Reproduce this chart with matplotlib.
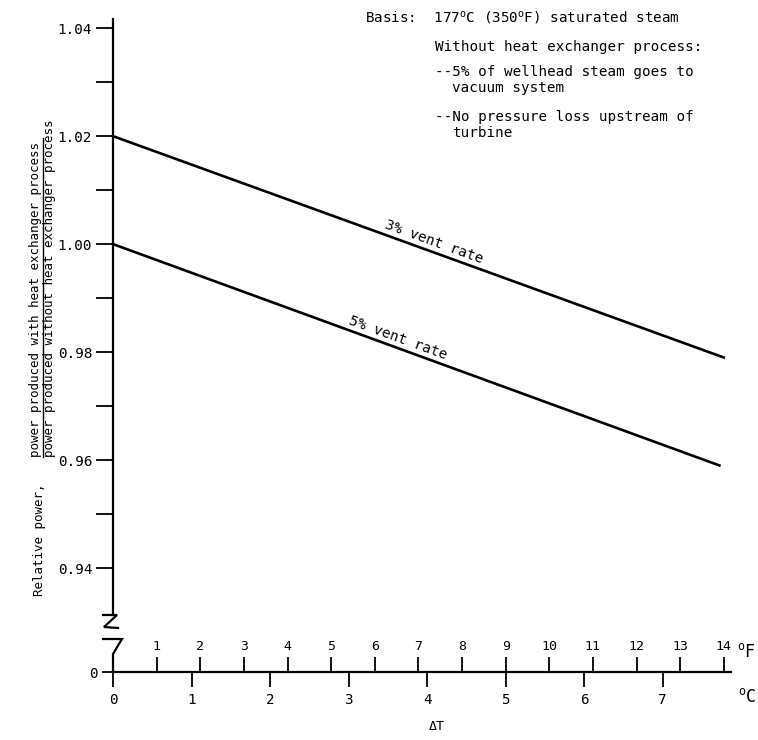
import numpy as np
import matplotlib
matplotlib.use("Agg")
import matplotlib.pyplot as plt
from matplotlib.lines import Line2D

# data (delta T in deg F, relative power)
dT_3pct_F = [0.0, 14.0]
power_3pct = [1.020, 0.979]
dT_5pct_F = [0.0, 13.9]
power_5pct = [1.000, 0.959]

y_major = [0.94, 0.96, 0.98, 1.00, 1.02, 1.04]
y_minor = [0.95, 0.97, 0.99, 1.01, 1.03]
c_ticks = [0, 1, 2, 3, 4, 5, 6, 7]
f_ticks = list(range(1, 15))

plt.rcParams['font.family'] = ['DejaVu Sans Mono']
plt.rcParams['mathtext.fontset'] = 'custom'
plt.rcParams['mathtext.rm'] = 'DejaVu Sans Mono'
plt.rcParams['mathtext.it'] = 'DejaVu Sans Mono'

W, H = 758, 740
fig = plt.figure(figsize=(W / 100, H / 100), dpi=100)

def fx(x):
    return x / W

def fy(y):
    return 1 - y / H

def f2c(f):
    return np.asarray(f) * 5.0 / 9.0

xmax_c = 7.87
lw_ax = 1.6
fs = 10.3

# main axes (upper part of broken y axis)
ax = fig.add_axes([fx(113), fy(615), fx(731) - fx(113), fy(19) - fy(615)])
ax.set_xlim(0, xmax_c)
ax.set_ylim(0.9313, 1.0417)
for s in ['top', 'right', 'bottom']:
    ax.spines[s].set_visible(False)
ax.spines['left'].set_linewidth(lw_ax)
ax.set_xticks([])
ax.set_yticks(y_major)
ax.set_yticklabels(['%.2f' % v for v in y_major], fontsize=fs)
ax.set_yticks(y_minor, minor=True)
ax.tick_params(axis='y', which='both', length=12, width=1.3, pad=3)
ax.patch.set_alpha(0)

ax.plot(f2c(dT_3pct_F), power_3pct, color='black', lw=1.9, clip_on=False)
ax.plot(f2c(dT_5pct_F), power_5pct, color='black', lw=1.9, clip_on=False)

# labels on the lines
for xs, ys, xc, lab in [(dT_3pct_F, power_3pct, 4.05, '3% vent rate'),
                        (dT_5pct_F, power_5pct, 3.59, '5% vent rate')]:
    yc = np.interp(xc, f2c(xs), ys)
    ax.annotate(lab, xy=(xc, yc), xytext=(0.7, 1.9), textcoords='offset points',
                rotation=-20, rotation_mode='anchor', ha='center', va='bottom',
                fontsize=fs)

# bottom axis at zero, deg C below, deg F above
axb = fig.add_axes([fx(113), fy(672), fx(731) - fx(113), 0.001])
axb.set_xlim(0, xmax_c)
axb.set_ylim(0, 1)
for s in ['top', 'right', 'left']:
    axb.spines[s].set_visible(False)
axb.spines['bottom'].set_linewidth(lw_ax)
axb.set_xticks(c_ticks)
axb.set_xticklabels([str(c) for c in c_ticks], fontsize=fs)
axb.tick_params(axis='x', length=11, width=1.3, pad=4)
axb.set_yticks([0])
axb.set_yticklabels(['0'], fontsize=fs)
axb.tick_params(axis='y', length=8, width=1.3, pad=3)
axb.patch.set_alpha(0)

axt = axb.twiny()
axt.set_xlim(0, xmax_c * 9.0 / 5.0)
for s in axt.spines.values():
    s.set_visible(False)
axt.set_xticks(f_ticks)
axt.set_xticklabels([str(f) for f in f_ticks], fontsize=9.5)
axt.tick_params(axis='x', length=10, width=1.3, pad=3)

# break marks on y axis
def pline(pts, lw=1.6):
    xs = [fx(p[0]) for p in pts]
    ys = [fy(p[1]) for p in pts]
    fig.add_artist(Line2D(xs, ys, color='black', lw=lw, transform=fig.transFigure,
                          solid_joinstyle='miter'))

pline([(103, 615), (117, 615), (104, 627), (118, 628)])
pline([(103, 639), (122, 639), (113, 654), (113, 672)])

# unit labels
fig.text(fx(746), fy(652), r'$^{\mathrm{o}}$F', fontsize=12, ha='center', va='center')
fig.text(fx(747), fy(697), r'$^{\mathrm{o}}$C', fontsize=12, ha='center', va='center')
fig.text(fx(437), fy(726), '\u0394T', fontsize=9.5, ha='center', va='center')

# basis notes
notes = [
    (365, 17, r'Basis:  177$^{\mathrm{o}}$C (350$^{\mathrm{o}}$F) saturated steam'),
    (435, 47, 'Without heat exchanger process:'),
    (435, 72, '--5% of wellhead steam goes to'),
    (452, 88, 'vacuum system'),
    (435, 117, '--No pressure loss upstream of'),
    (452, 133, 'turbine'),
]
for x, y, t in notes:
    fig.text(fx(x), fy(y), t, fontsize=fs, ha='left', va='center')

# y axis label: Relative power, numerator / denominator
fig.text(fx(40), fy(483), 'Relative power,', fontsize=9, rotation=90,
         rotation_mode='anchor', ha='right', va='center')
fig.text(fx(36), fy(457), 'power produced with heat exchanger process', fontsize=9,
         rotation=90, rotation_mode='anchor', ha='left', va='center')
fig.text(fx(49), fy(457), 'power produced without heat exchanger process', fontsize=9,
         rotation=90, rotation_mode='anchor', ha='left', va='center')
pline([(42.5, 457), (42.5, 138)], lw=1.0)

fig.savefig('out.png', dpi=100)
